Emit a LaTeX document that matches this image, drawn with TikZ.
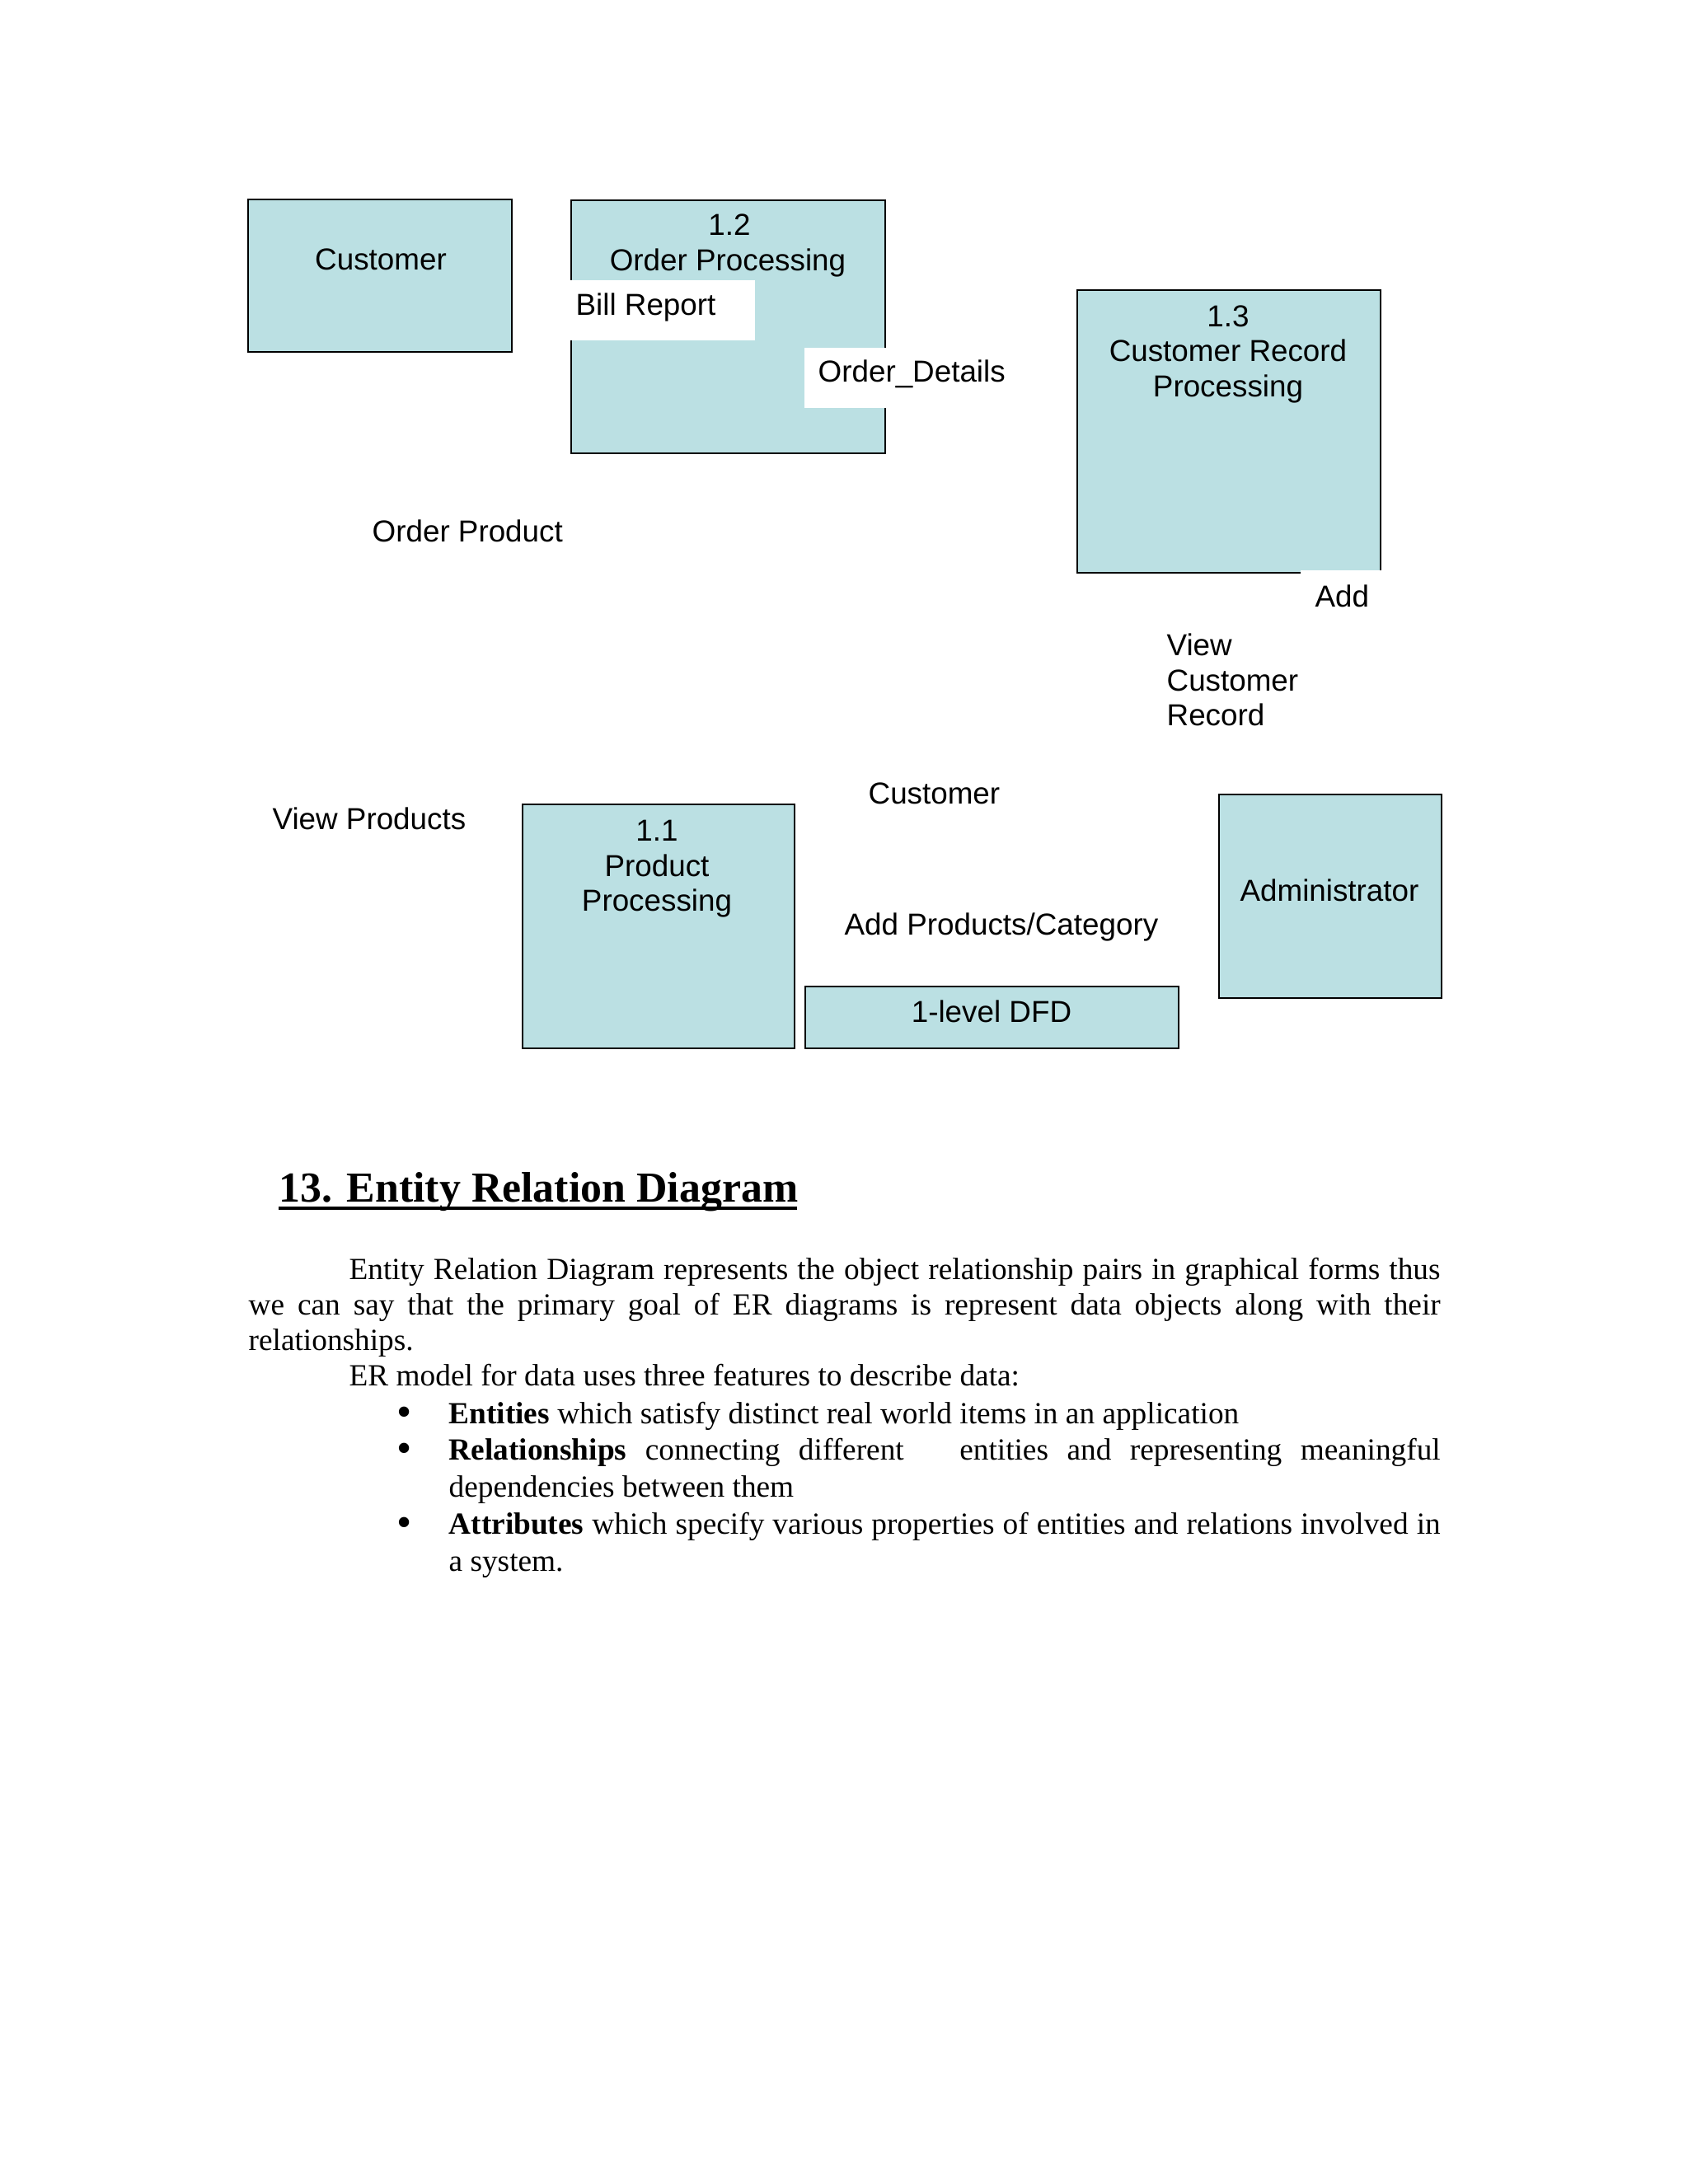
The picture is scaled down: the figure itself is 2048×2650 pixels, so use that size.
\documentclass[tikz,border=0pt]{standalone}
\usepackage{fontspec}
\setmainfont{Liberation Serif}
\newfontfamily\arialf{Liberation Sans}
\definecolor{boxblue}{RGB}{187,224,227}
\tikzset{
  procbox/.style={draw=black,line width=0.8pt,fill=boxblue},
  whitelabel/.style={fill=white,draw=none},
  dtxt/.style={inner sep=0pt,font=\arialf\fontsize{11}{12.9}\selectfont},
  dleft/.style={dtxt,anchor=base west},
  dmid/.style={dtxt,anchor=base},
  btxt/.style={inner sep=0pt,anchor=base west,font=\fontsize{11.15}{13}\selectfont},
  bullettxt/.style={inner sep=0pt,anchor=base,font=\fontsize{15.5}{13}\selectfont},
}
\begin{document}
\begin{tikzpicture}[x=0.29883pt,y=-0.29883pt]
\useasboundingbox[fill=white] (0,0) rectangle (2048,2650);

% --- Customer (external entity)
\draw[procbox] (301,242) rectangle (621,427);
\node[dmid] (custA) at (462,327) {Customer};

% --- 1.2 Order Processing
\draw[procbox] (693,243) rectangle (1074,550);
\node[dmid] (p12a) at (885,285) {1.2};
\node[dmid] (p12b) at (883,328) {Order Processing};
\fill[whitelabel] (689,340) rectangle (916,413);
\node[dleft] (bill) at (698,382) {Bill Report};
\fill[whitelabel] (976,422) rectangle (1225,495);
\node[dleft] (orderdet) at (992,463) {Order\_Details};

% --- 1.3 Customer Record Processing
\draw[procbox] (1307,352) rectangle (1675,695);
\node[dmid] (p13a) at (1490,396) {1.3};
\node[dmid] (p13b) at (1490,438) {Customer Record};
\node[dmid] (p13c) at (1490,481) {Processing};
\fill[whitelabel] (1578,692) rectangle (1700,760);
\node[dleft] (add) at (1595,736) {Add};
\node[dleft] (viewa) at (1415,795) {View};
\node[dleft] (viewb) at (1415,838) {Customer};
\node[dleft] (viewc) at (1415,880) {Record};

% --- free labels
\node[dleft] (orderprod) at (451,657) {Order Product};
\node[dleft] (viewprod) at (330,1006) {View Products};
\node[dleft] (custB) at (1053,975) {Customer};
\node[dleft] (addprod) at (1024,1134) {Add Products/Category};

% --- 1.1 Product Processing
\draw[procbox] (634,976) rectangle (964,1272);
\node[dmid] (p11a) at (797,1020) {1.1};
\node[dmid] (p11b) at (797,1063) {Product};
\node[dmid] (p11c) at (797,1105) {Processing};

% --- 1-level DFD caption box
\draw[procbox] (977,1197) rectangle (1430,1272);
\node[dmid] (dfd) at (1203,1240) {1-level DFD};

% --- Administrator
\draw[procbox] (1479,964) rectangle (1749,1211);
\node[dmid] (admin) at (1613,1093) {Administrator};

% --- Heading
\node[inner sep=0pt,anchor=base west,font=\bfseries\fontsize{15.5}{18}\selectfont] (head) at (338,1458) {13. Entity Relation Diagram};
\draw[line width=1.1pt] (338,1466) -- (967,1466);

% --- Body text
\node[btxt] (l1) at (423,1552) {\makebox[395.6pt][s]{Entity Relation Diagram represents the object relationship pairs in graphical forms thus}};
\node[btxt] (l2) at (301,1595) {\makebox[432.1pt][s]{we can say that the primary goal of ER diagrams is represent data objects along with their}};
\node[btxt] (l3) at (301,1638) {relationships.};
\node[btxt] (l4) at (423,1681) {ER model for data uses three features to describe data:};

\node[bullettxt] (b1) at (491,1730) {•};
\node[btxt] (l5) at (544,1727) {\textbf{Entities} which satisfy distinct real world items in an application};
\node[bullettxt] (b2) at (491,1774) {•};
\node[btxt] (l6) at (544,1771) {\makebox[359.5pt][s]{\textbf{Relationships} connecting different\ \ \ entities and representing meaningful}};
\node[btxt] (l7) at (544,1816) {dependencies between them};
\node[bullettxt] (b3) at (491,1864) {•};
\node[btxt] (l8) at (544,1861) {\makebox[359.5pt][s]{\textbf{Attributes} which specify various properties of entities and relations involved in}};
\node[btxt] (l9) at (544,1906) {a system.};
\end{tikzpicture}
\end{document}
